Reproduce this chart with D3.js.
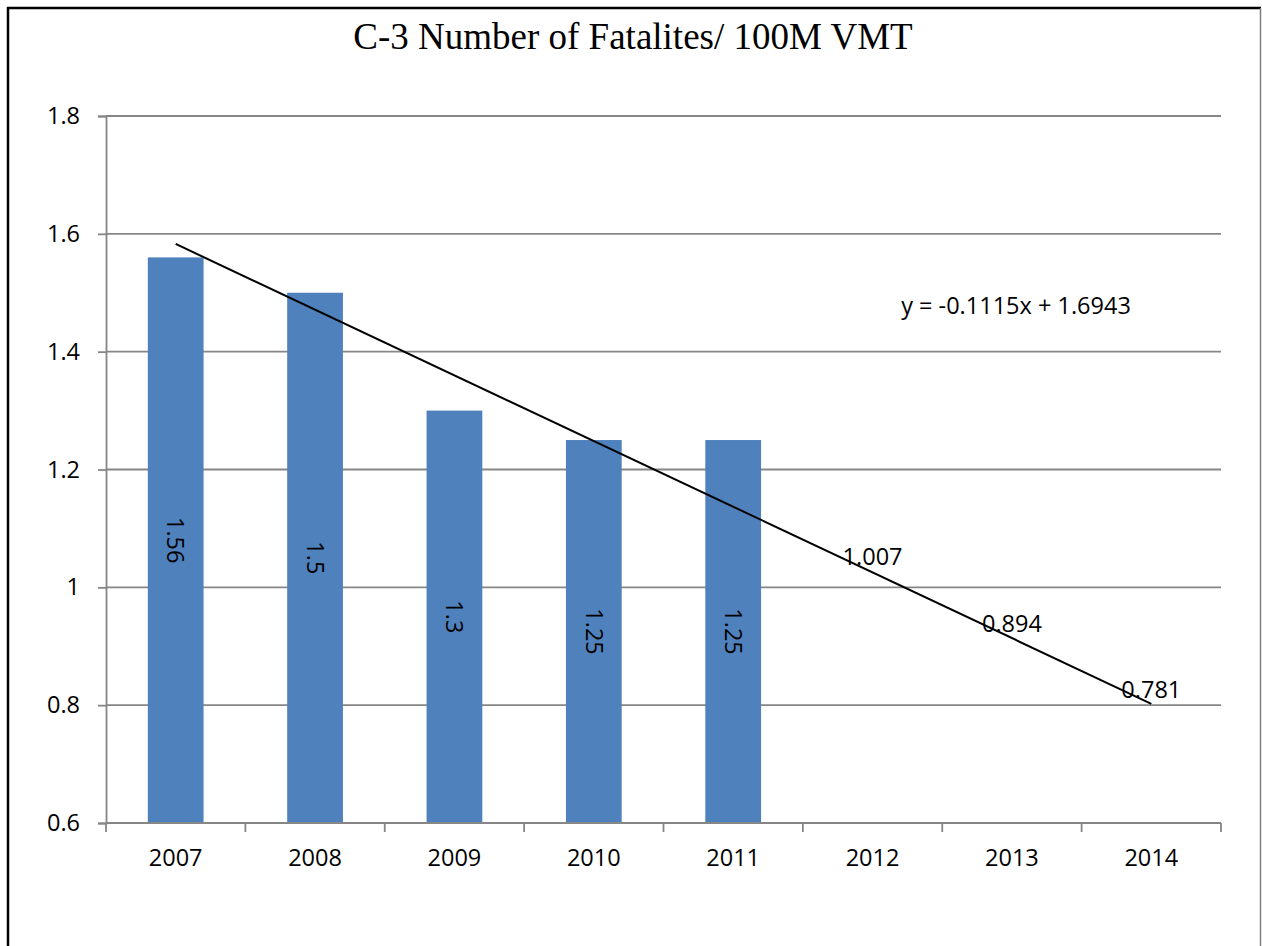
<!DOCTYPE html>
<html>
<head>
<meta charset="utf-8">
<script src="https://cdn.jsdelivr.net/npm/d3@7"></script>
<style>
  html, body { margin: 0; padding: 0; background: #fff; }
  svg { display: block; }
</style>
</head>
<body>
<svg id="chart" width="1262" height="946"></svg>
<script>
const title = "C-3 Number of Fatalites/ 100M VMT";
const years = ["2007", "2008", "2009", "2010", "2011", "2012", "2013", "2014"];
const barValues = [1.56, 1.5, 1.3, 1.25, 1.25, null, null, null];
const projectedLabels = [null, null, null, null, null, 1.007, 0.894, 0.781];
const yTicks = [0.6, 0.8, 1.0, 1.2, 1.4, 1.6, 1.8];
const trendSlope = -0.1115;
const trendIntercept = 1.6943;
const trendLabel = "y = -0.1115x + 1.6943";

const svg = d3.select("#chart");
const W = 1262, H = 946;
const plot = { left: 106, right: 1221, top: 116, bottom: 823 };
const font = "'Open Sans', 'Noto Sans', sans-serif";
const fs = 23.5;

// Outer frame
svg.append("line").attr("x1", 8).attr("x2", 8).attr("y1", 7).attr("y2", H)
  .attr("stroke", "#000").attr("stroke-width", 2.5);
svg.append("line").attr("x1", 7).attr("x2", 1261).attr("y1", 8).attr("y2", 8)
  .attr("stroke", "#000").attr("stroke-width", 2.5);
svg.append("line").attr("x1", 1260.5).attr("x2", 1260.5).attr("y1", 8).attr("y2", H)
  .attr("stroke", "#7f7f7f").attr("stroke-width", 1.5);

// Title
svg.append("text").attr("x", 633).attr("y", 49).attr("text-anchor", "middle")
  .attr("font-family", "'Liberation Serif', 'Times New Roman', serif")
  .attr("font-size", 37).attr("fill", "#000").text(title);

const x = d3.scaleBand().domain(years).range([plot.left, plot.right]).padding(0);
const y = d3.scaleLinear().domain([0.6, 1.8]).range([plot.bottom, plot.top]);

const gridColor = "#868686";

// Gridlines
svg.append("g").selectAll("line").data(yTicks.filter(d => d > 0.6)).join("line")
  .attr("x1", plot.left).attr("x2", plot.right)
  .attr("y1", d => y(d)).attr("y2", d => y(d))
  .attr("stroke", gridColor).attr("stroke-width", 1.8);

// Y axis
const yAxis = svg.append("g").attr("transform", `translate(${plot.left},0)`)
  .call(d3.axisLeft(y).tickValues(yTicks).tickSize(8).tickPadding(18)
    .tickFormat(d => d === 1 ? "1" : d3.format(".1f")(d)));
yAxis.select(".domain").attr("stroke", gridColor).attr("stroke-width", 1.8);
yAxis.selectAll(".tick line").attr("stroke", gridColor).attr("stroke-width", 1.8);
yAxis.selectAll(".tick text").attr("font-family", font).attr("font-size", fs).attr("fill", "#000");

// Bars
const barW = x.bandwidth() * 0.4;
const barData = years.map((yr, i) => ({ yr, v: barValues[i] })).filter(d => d.v != null);
svg.append("g").selectAll("rect").data(barData).join("rect")
  .attr("x", d => x(d.yr) + x.bandwidth() / 2 - barW / 2)
  .attr("width", barW)
  .attr("y", d => y(d.v))
  .attr("height", d => y(0.6) - y(d.v))
  .attr("fill", "#4F81BD");

// X axis
const xAxis = svg.append("g").attr("transform", `translate(0,${plot.bottom})`)
  .call(d3.axisBottom(x).tickSize(0).tickPadding(26));
xAxis.select(".domain").remove();
xAxis.selectAll(".tick text").attr("font-family", font).attr("font-size", fs).attr("fill", "#000");
svg.append("line").attr("x1", plot.left).attr("x2", plot.right)
  .attr("y1", plot.bottom).attr("y2", plot.bottom)
  .attr("stroke", gridColor).attr("stroke-width", 1.8);
const bounds = years.map(d => x(d)).concat([x(years[years.length - 1]) + x.bandwidth()]);
svg.append("g").selectAll("line").data(bounds).join("line")
  .attr("x1", d => d).attr("x2", d => d)
  .attr("y1", plot.bottom).attr("y2", plot.bottom + 9)
  .attr("stroke", gridColor).attr("stroke-width", 1.8);

// Bar labels (rotated)
svg.append("g").selectAll("text").data(barData).join("text")
  .attr("transform", d => {
    const cx = x(d.yr) + x.bandwidth() / 2;
    const cy = (y(d.v) + y(0.6)) / 2;
    return `translate(${cx},${cy}) rotate(90)`;
  })
  .attr("text-anchor", "middle").attr("dy", "0.35em")
  .attr("font-family", font).attr("font-size", fs).attr("fill", "#000")
  .text(d => String(d.v));

// Trendline
const cx = i => x(years[i]) + x.bandwidth() / 2;
svg.append("line")
  .attr("x1", cx(0)).attr("y1", y(trendSlope * 1 + trendIntercept))
  .attr("x2", cx(years.length - 1)).attr("y2", y(trendSlope * years.length + trendIntercept))
  .attr("stroke", "#000").attr("stroke-width", 2);

// Projected labels
const projData = years.map((yr, i) => ({ yr, v: projectedLabels[i] })).filter(d => d.v != null);
svg.append("g").selectAll("text").data(projData).join("text")
  .attr("x", d => x(d.yr) + x.bandwidth() / 2)
  .attr("y", d => y(d.v) - 18)
  .attr("text-anchor", "middle")
  .attr("font-family", font).attr("font-size", fs).attr("fill", "#000")
  .text(d => String(d.v));

// Trend equation
svg.append("text").attr("x", 1016).attr("y", 314).attr("text-anchor", "middle")
  .attr("font-family", font).attr("font-size", fs).attr("fill", "#000")
  .text(trendLabel);
</script>
</body>
</html>
